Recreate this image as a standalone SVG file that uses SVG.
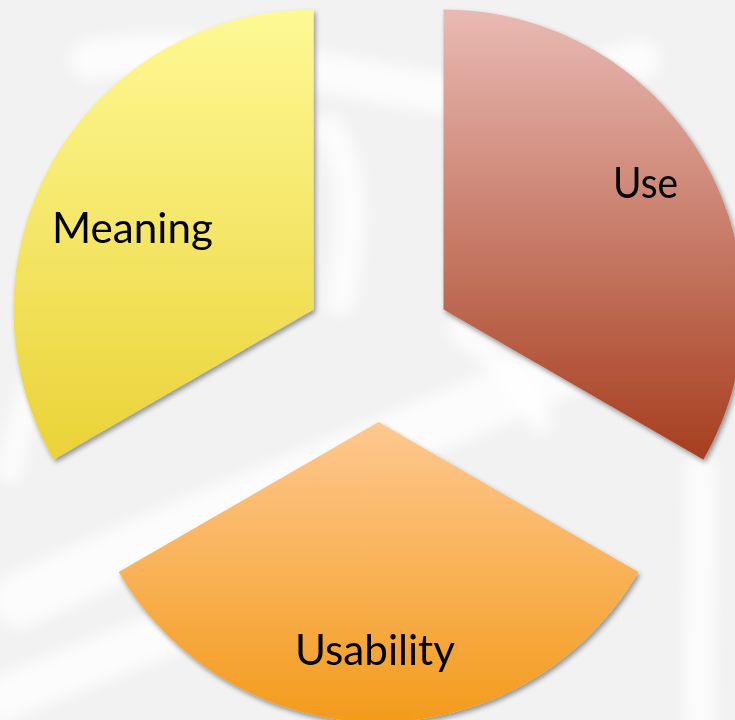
<svg xmlns="http://www.w3.org/2000/svg" width="735" height="720" viewBox="0 0 735 720">
  <defs>
    <linearGradient id="gYellow" x1="0" y1="0" x2="0" y2="1">
      <stop offset="0" stop-color="#FEF996"/>
      <stop offset="1" stop-color="#EAD337"/>
    </linearGradient>
    <linearGradient id="gRed" x1="0" y1="0" x2="0" y2="1">
      <stop offset="0" stop-color="#E9BAB4"/>
      <stop offset="1" stop-color="#A63E1E"/>
    </linearGradient>
    <linearGradient id="gOrange" x1="0" y1="0" x2="0" y2="1">
      <stop offset="0" stop-color="#FEC890"/>
      <stop offset="1" stop-color="#F39B1C"/>
    </linearGradient>
    <filter id="shadow" x="-10%" y="-10%" width="120%" height="120%">
      <feDropShadow dx="2" dy="3" stdDeviation="2.5" flood-color="#000" flood-opacity="0.4"/>
    </filter>
    <filter id="soft" x="-20%" y="-20%" width="140%" height="140%">
      <feGaussianBlur stdDeviation="7"/>
    </filter>
  </defs>
  <style>
    .label { font-family: "Century Gothic", Futura, Lato, "Liberation Sans", sans-serif; font-size: 42px; fill: #000; }
    .brush { fill: none; stroke: #fff; stroke-linecap: round; opacity: 0.75; }
  </style>

  <rect width="735" height="720" fill="#F2F2F2"/>
  <g id="texture" filter="url(#soft)">
    <path class="brush" d="M90 60 C200 40 300 70 420 90 S560 80 640 60" stroke-width="40"/>
    <path class="brush" d="M20 600 C150 540 300 480 420 430 S540 380 600 350" stroke-width="55"/>
    <path class="brush" d="M0 700 C120 650 200 620 260 600" stroke-width="45"/>
    <path class="brush" d="M700 470 C705 560 695 640 700 720" stroke-width="30"/>
    <path class="brush" d="M330 130 C360 180 350 250 340 300" stroke-width="30"/>
    <path class="brush" d="M460 330 C500 360 520 380 540 420" stroke-width="25"/>
    <path class="brush" d="M60 300 C40 360 20 420 10 470" stroke-width="25"/>
  </g>

  <g id="meaning" filter="url(#shadow)">
    <path d="M313.5 309.5 L313.5 9.5 A300 300 0 0 0 53.7 459.5 Z" fill="url(#gYellow)"/>
    <text class="label" x="52" y="243" textLength="161" lengthAdjust="spacingAndGlyphs">Meaning</text>
  </g>

  <g id="use" filter="url(#shadow)">
    <path d="M443.5 309.5 L443.5 9.5 A300 300 0 0 1 703.3 459.5 Z" fill="url(#gRed)"/>
    <text class="label" x="613" y="198" textLength="65" lengthAdjust="spacingAndGlyphs">Use</text>
  </g>

  <g id="usability" filter="url(#shadow)">
    <path d="M378.5 422 L638.3 572 A300 300 0 0 1 118.7 572 Z" fill="url(#gOrange)"/>
    <text class="label" x="295" y="665" textLength="160" lengthAdjust="spacingAndGlyphs">Usability</text>
  </g>

  <g id="connectors"/>
</svg>
